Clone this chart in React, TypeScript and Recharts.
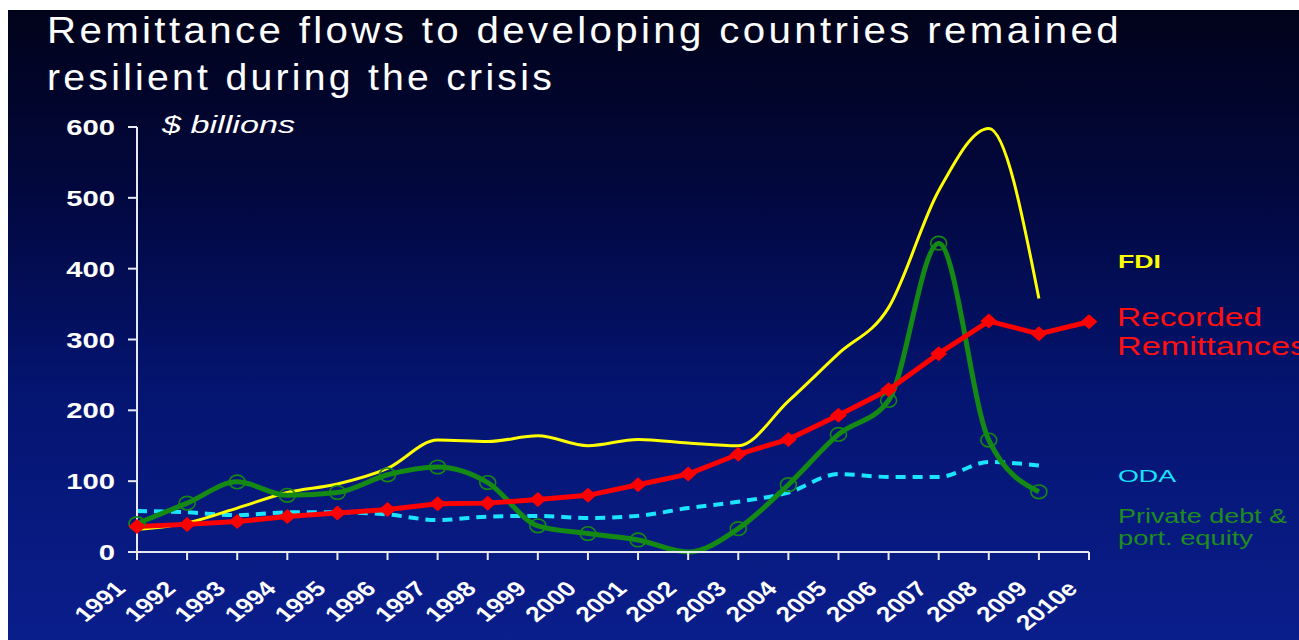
import { LineChart, Line, XAxis, YAxis } from "recharts";

// chart values ($ billions)
const years = [
  "1991", "1992", "1993", "1994", "1995", "1996", "1997", "1998", "1999", "2000",
  "2001", "2002", "2003", "2004", "2005", "2006", "2007", "2008", "2009", "2010e",
];
const remittances = [36, 39, 43, 50, 55, 60, 68, 69, 74, 80, 95, 110, 138, 159, 193, 229, 280, 326, 308, 325];
const privateFlows = [40, 69, 99, 80, 84, 109, 120, 98, 37, 26, 17, 0, 33, 95, 166, 214, 436, 158, 85, null];
const fdi = [32, 41, 62, 84, 96, 118, 158, 156, 164, 150, 159, 154, 150, 213, 280, 345, 510, 598, 358, null];
const oda = [58, 56, 52, 56, 56, 53, 45, 50, 51, 48, 51, 62, 71, 84, 110, 106, 106, 127, 122, null];
const yTicks = [0, 100, 200, 300, 400, 500, 600];

const data = years.map((year, i) => ({
  year,
  remittances: remittances[i],
  privateFlows: privateFlows[i],
  fdi: fdi[i],
  oda: oda[i],
}));

const FONT = "'Liberation Sans', Arial, sans-serif";
const RED = "#ff0000";
const GREEN = "#148a14";
const YELLOW = "#ffff00";
const CYAN = "#1ae4ff";

function XTick({ x, y, payload }: any) {
  return (
    <text
      transform={`translate(${x - 10},${y + 28}) scale(1.26,1) rotate(-45)`}
      textAnchor="end"
      fill="#fff"
      fontSize={21}
      fontWeight="bold"
      fontFamily={FONT}
    >
      {payload.value}
    </text>
  );
}

function YTick({ x, y, payload }: any) {
  return (
    <text
      transform={`translate(${x},${y + 8}) scale(1.33,1)`}
      textAnchor="end"
      fill="#fff"
      fontSize={22}
      fontWeight="bold"
      fontFamily={FONT}
    >
      {payload.value}
    </text>
  );
}

function Diamond({ cx, cy, index }: any) {
  if (cx == null || cy == null) return <g key={`d-${index}`} />;
  return (
    <polygon
      key={`d-${index}`}
      points={`${cx},${cy - 7.5} ${cx + 8.5},${cy} ${cx},${cy + 7.5} ${cx - 8.5},${cy}`}
      fill={RED}
    />
  );
}

function Ring({ cx, cy, index, value }: any) {
  if (cx == null || cy == null || value == null || value <= 0) return <g key={`r-${index}`} />;
  return <ellipse key={`r-${index}`} cx={cx} cy={cy} rx={8} ry={6.8} fill="none" stroke={GREEN} strokeWidth={1.6} />;
}

export default function App() {
  return (
    <div style={{ position: "absolute", left: 0, top: 0, width: 1299, height: 640, background: "#fff", overflow: "hidden" }}>
      <div
        style={{
          position: "absolute",
          left: 8,
          top: 10,
          right: 0,
          bottom: 0,
          background: "linear-gradient(to bottom, #01031a 0%, #020840 30%, #041470 60%, #0a1e8c 100%)",
        }}
      />
      <div style={{ position: "absolute", left: 0, top: 0 }}>
        <LineChart width={1299} height={640} data={data} margin={{ top: 127, right: 210, left: 57, bottom: 28 }}>
          <XAxis
            dataKey="year"
            interval={0}
            height={60}
            stroke="#e8e8f0"
            strokeWidth={2}
            tickSize={8}
            tick={<XTick />}
          />
          <YAxis
            domain={[0, 600]}
            ticks={yTicks}
            width={80}
            stroke="#e8e8f0"
            strokeWidth={2}
            tickSize={9}
            tickMargin={13}
            tick={<YTick />}
          />
          <Line
            dataKey="oda"
            type="monotone"
            stroke={CYAN}
            strokeWidth={4}
            strokeDasharray="10 7"
            dot={false}
            isAnimationActive={false}
          />
          <Line
            dataKey="fdi"
            type="monotone"
            stroke={YELLOW}
            strokeWidth={3}
            dot={false}
            isAnimationActive={false}
          />
          <Line
            dataKey="privateFlows"
            type="monotone"
            stroke={GREEN}
            strokeWidth={5}
            dot={Ring}
            isAnimationActive={false}
          />
          <Line
            dataKey="remittances"
            type="linear"
            stroke={RED}
            strokeWidth={5}
            dot={Diamond}
            isAnimationActive={false}
          />
        </LineChart>
      </div>
      <svg
        width={1299}
        height={640}
        style={{ position: "absolute", left: 0, top: 0, pointerEvents: "none" }}
        fontFamily={FONT}
      >
        <text x={47} y={43} fontSize={36} letterSpacing={3} fill="#fff" textLength={1075} lengthAdjust="spacingAndGlyphs">
          Remittance flows to developing countries remained
        </text>
        <text x={47} y={90} fontSize={36} letterSpacing={3} fill="#fff" textLength={508} lengthAdjust="spacingAndGlyphs">
          resilient during the crisis
        </text>
        <text x={162} y={133} fontSize={23} fontStyle="italic" fill="#fff" textLength={133} lengthAdjust="spacingAndGlyphs">
          $ billions
        </text>
        <text x={1118} y={268} fontSize={18} fontWeight="bold" fill={YELLOW} textLength={43} lengthAdjust="spacingAndGlyphs">
          FDI
        </text>
        <text x={1117} y={326} fontSize={25} fill="#ff1010" textLength={145} lengthAdjust="spacingAndGlyphs">
          Recorded
        </text>
        <text x={1117} y={355} fontSize={25} fill="#ff1010" textLength={190} lengthAdjust="spacingAndGlyphs">
          Remittances
        </text>
        <text x={1118} y={482} fontSize={17} fill={CYAN} textLength={58} lengthAdjust="spacingAndGlyphs">
          ODA
        </text>
        <text x={1118} y={523} fontSize={20} fill="#1e8c1e" textLength={169} lengthAdjust="spacingAndGlyphs">
          Private debt &amp;
        </text>
        <text x={1118} y={545} fontSize={20} fill="#1e8c1e" textLength={135} lengthAdjust="spacingAndGlyphs">
          port. equity
        </text>
      </svg>
    </div>
  );
}
